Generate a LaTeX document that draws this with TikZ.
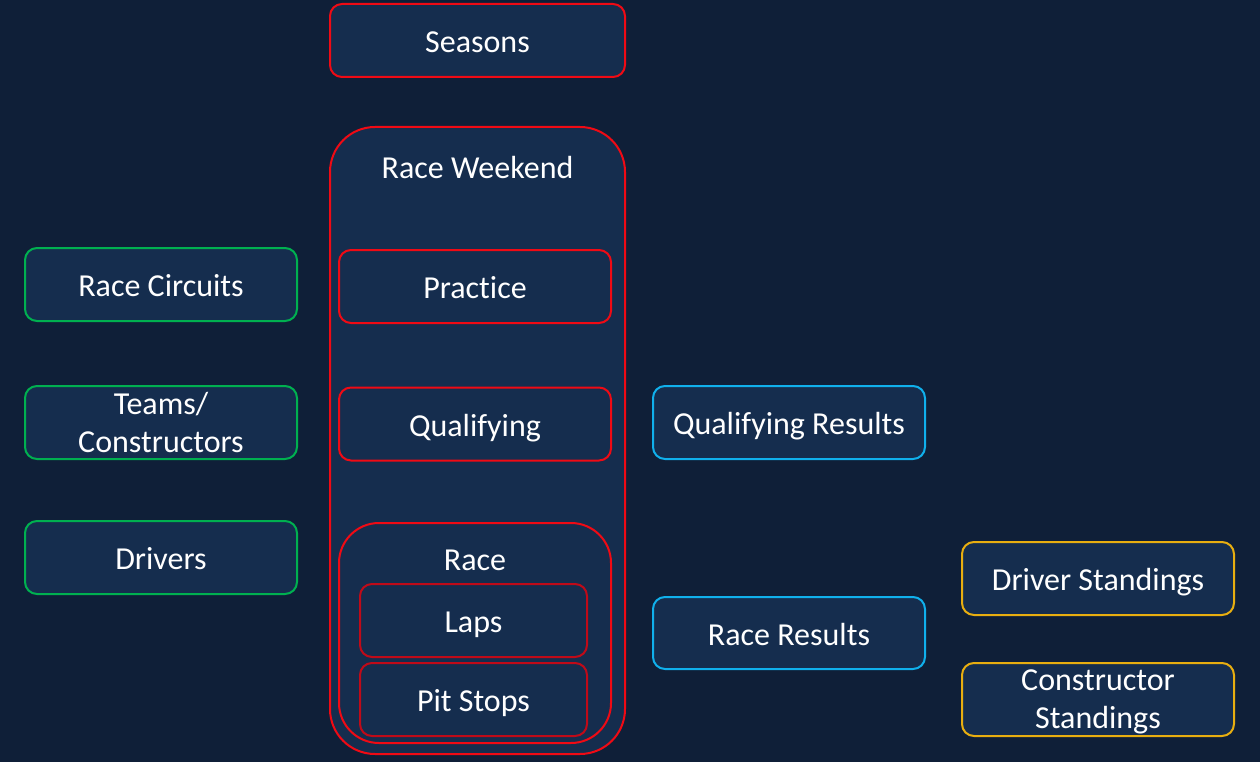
\documentclass[tikz,border=0pt]{standalone}
\usepackage{fontspec}
\setmainfont{Carlito}[Ligatures={NoCommon,NoDiscretionary,NoRare},Contextuals=NoAlternate]
\definecolor{bgc}{HTML}{0F1F38}
\definecolor{boxc}{HTML}{152D4E}
\definecolor{redc}{HTML}{F00A14}
\definecolor{dredc}{HTML}{C00A18}
\definecolor{greenc}{HTML}{00B050}
\definecolor{cyanc}{HTML}{10B0EC}
\definecolor{goldc}{HTML}{E8AE10}
\begin{document}
\begin{tikzpicture}[x=1pt,y=-1pt,
  boxbase/.style={draw, line width=2pt, fill=boxc, rounded corners=12pt, text=white,
    font=\fontsize{32}{38}\selectfont, align=center, inner sep=0pt,
    minimum width=272pt, minimum height=73pt},
  box/.style={boxbase, text height=26pt, text depth=2pt},
  twoline/.style={boxbase, text depth=0pt},
  redbox/.style={box, draw=redc},
  greenbox/.style={box, draw=greenc},
  cyanbox/.style={box, draw=cyanc},
  goldbox/.style={box, draw=goldc},
  lbl/.style={text=white, font=\fontsize{32}{38}\selectfont, inner sep=0pt}]
\fill[bgc] (0,0) rectangle (1260,762);
\useasboundingbox (0,0) rectangle (1260,762);
% left column
\node[greenbox] (circuits) at (161,284.5) {Race Circuits};
\node[twoline, draw=greenc] (teams) at (161,422.5) {Teams/\\Constructors};
\node[greenbox] (drivers) at (161,557.5) {Drivers};
% centre column
\node[redbox, minimum width=295pt] (seasons) at (477.5,40.5) {Seasons};
\node[redbox, minimum width=295pt, minimum height=627pt, rounded corners=45pt] (weekend) at (477.5,440.5) {};
\node[lbl] (weekendlbl) at (477.5,168) {Race Weekend};
\node[redbox] (practice) at (475,286.5) {Practice};
\node[redbox] (qualifying) at (475,424) {Qualifying};
\node[redbox, minimum height=220pt, rounded corners=40pt] (race) at (475,633) {};
\node[lbl] (racelbl) at (475,560) {Race};
\node[box, draw=dredc, minimum width=227pt] (laps) at (473.5,620.5) {Laps};
\node[box, draw=dredc, minimum width=227pt] (pitstops) at (473.5,699.5) {Pit Stops};
% results column
\node[cyanbox] (qualres) at (789,422.5) {Qualifying Results};
\node[cyanbox, minimum height=72pt] (raceres) at (789,633) {Race Results};
% standings column
\node[goldbox] (drvstand) at (1098,578.5) {Driver Standings};
\node[twoline, draw=goldc] (constand) at (1098,699.5) {Constructor\\Standings};
\end{tikzpicture}
\end{document}
